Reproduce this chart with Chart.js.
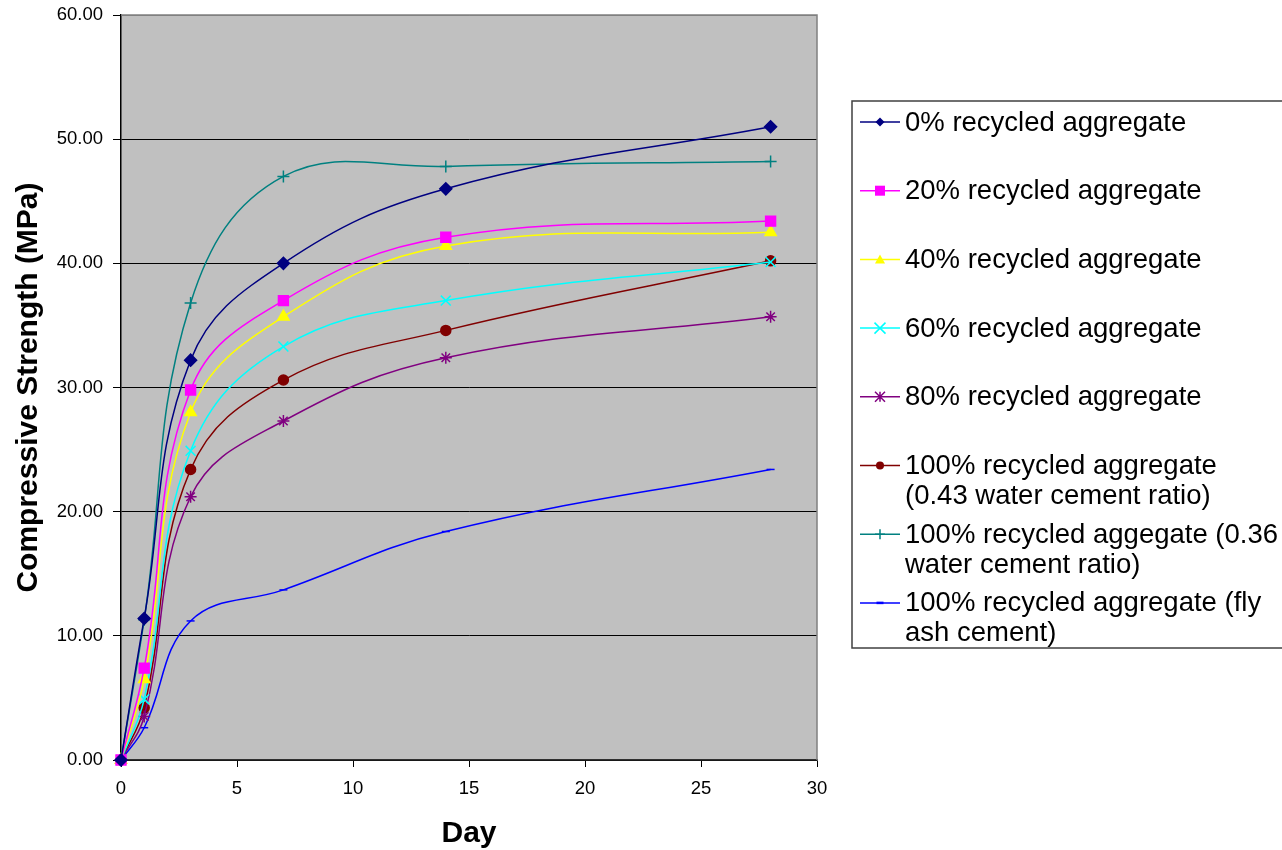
<!DOCTYPE html>
<html>
<head>
<meta charset="utf-8">
<title>Compressive Strength vs Day</title>
<script src="https://cdn.jsdelivr.net/npm/chart.js@4.4.1/dist/chart.umd.min.js"></script>
<style>
  html, body { margin: 0; padding: 0; background: #ffffff; }
  #wrap { width: 1282px; height: 850px; position: relative; }
</style>
</head>
<body>
<div id="wrap"><canvas id="c" width="1282" height="850"></canvas></div>
<script>
// Test ages (days)
const days = [0, 1, 3, 7, 14, 28];

// Compressive strength (MPa) per mix
const ra0    = [0, 11.4, 32.2, 40.0, 46.0, 51.0];
const ra20   = [0, 7.4, 29.8, 37.0, 42.1, 43.4];
const ra40   = [0, 6.5, 28.0, 35.7, 41.4, 42.5];
const ra60   = [0, 4.9, 24.9, 33.3, 37.0, 40.1];
const ra80   = [0, 3.5, 21.2, 27.3, 32.4, 35.7];
const ra100w43 = [0, 4.2, 23.4, 30.6, 34.6, 40.2];
const ra100w36 = [0, 11.3, 36.8, 47.0, 47.8, 48.2];
const ra100fa  = [0, 2.6, 11.2, 13.7, 18.4, 23.4];

const seriesNames = [
  "0% recycled aggregate",
  "20% recycled aggregate",
  "40% recycled aggregate",
  "60% recycled aggregate",
  "80% recycled aggregate",
  "100% recycled aggregate\n(0.43 water cement ratio)",
  "100% recycled aggegate (0.36\nwater cement ratio)",
  "100% recycled aggregate (fly\nash cement)"
];

const yTicks = [0, 10, 20, 30, 40, 50, 60];
const xTicks = [0, 5, 10, 15, 20, 25, 30];

const FONT = '"Liberation Sans", Arial, Helvetica, sans-serif';

const styles = [
  { color: '#000080', point: 'rectRot',  r: 6,   lr: 4.5 },
  { color: '#FF00FF', point: 'rect',     r: 7,   lr: 5 },
  { color: '#FFFF00', point: 'triangle', r: 6.5, lr: 5 },
  { color: '#00FFFF', point: 'crossRot', r: 7,   lr: 5.5 },
  { color: '#800080', point: 'star',     r: 6,   lr: 5 },
  { color: '#800000', point: 'circle',   r: 5,   lr: 4 },
  { color: '#008080', point: 'cross',    r: 6,   lr: 5 },
  { color: '#0000FF', point: 'line',     r: 4,   lr: 3.5 }
];

const allSeries = [ra0, ra20, ra40, ra60, ra80, ra100w43, ra100w36, ra100fa];

const datasets = allSeries.map((vals, i) => ({
  label: seriesNames[i],
  data: days.map((d, k) => ({ x: d, y: vals[k] })),
  borderColor: styles[i].color,
  backgroundColor: styles[i].color,
  borderWidth: 1.5,
  tension: 0.4,
  pointStyle: styles[i].point,
  pointRadius: styles[i].r,
  pointHoverRadius: styles[i].r,
  pointBackgroundColor: styles[i].color,
  pointBorderColor: styles[i].color,
  pointBorderWidth: 1.5,
  clip: 8
}));

// Grey plot background and top/right frame lines
const plotFrame = {
  id: 'plotFrame',
  beforeDraw(chart) {
    const a = chart.chartArea, ctx = chart.ctx;
    ctx.save();
    ctx.fillStyle = '#C0C0C0';
    ctx.fillRect(a.left, a.top, a.right - a.left, a.bottom - a.top);
    ctx.restore();
  },
  beforeDatasetsDraw(chart) {
    const a = chart.chartArea, ctx = chart.ctx;
    ctx.save();
    ctx.strokeStyle = '#808080';
    ctx.lineWidth = 1.5;
    ctx.beginPath();
    ctx.moveTo(a.left, a.top);
    ctx.lineTo(a.right, a.top);
    ctx.lineTo(a.right, a.bottom);
    ctx.stroke();
    ctx.restore();
  }
};

// Legend marker shapes
function drawMarker(ctx, style, x, y, r) {
  ctx.save();
  ctx.fillStyle = style.color;
  ctx.strokeStyle = style.color;
  ctx.lineWidth = 1.5;
  ctx.beginPath();
  switch (style.point) {
    case 'rectRot':
      ctx.moveTo(x, y - r); ctx.lineTo(x + r, y); ctx.lineTo(x, y + r); ctx.lineTo(x - r, y);
      ctx.closePath(); ctx.fill(); break;
    case 'rect':
      ctx.rect(x - r, y - r, 2 * r, 2 * r); ctx.fill(); break;
    case 'triangle':
      ctx.moveTo(x, y - r); ctx.lineTo(x + r, y + r * 0.8); ctx.lineTo(x - r, y + r * 0.8);
      ctx.closePath(); ctx.fill(); break;
    case 'crossRot':
      ctx.moveTo(x - r, y - r); ctx.lineTo(x + r, y + r);
      ctx.moveTo(x + r, y - r); ctx.lineTo(x - r, y + r); ctx.stroke(); break;
    case 'star':
      ctx.moveTo(x - r, y - r); ctx.lineTo(x + r, y + r);
      ctx.moveTo(x + r, y - r); ctx.lineTo(x - r, y + r);
      ctx.moveTo(x, y - r); ctx.lineTo(x, y + r); ctx.stroke(); break;
    case 'circle':
      ctx.arc(x, y, r, 0, Math.PI * 2); ctx.fill(); break;
    case 'cross':
      ctx.moveTo(x - r, y); ctx.lineTo(x + r, y);
      ctx.moveTo(x, y - r); ctx.lineTo(x, y + r); ctx.stroke(); break;
    case 'line':
      ctx.lineWidth = 2.5;
      ctx.moveTo(x - r, y); ctx.lineTo(x + r, y); ctx.stroke(); break;
  }
  ctx.restore();
}

// Boxed legend on the right, with wrapped entries
const boxLegend = {
  id: 'boxLegend',
  afterDraw(chart) {
    const ctx = chart.ctx;
    const box = { left: 852, top: 101, right: 1300, bottom: 648 };
    ctx.save();
    ctx.fillStyle = '#ffffff';
    ctx.fillRect(box.left, box.top, box.right - box.left, box.bottom - box.top);
    ctx.strokeStyle = '#404040';
    ctx.lineWidth = 1.5;
    ctx.strokeRect(box.left, box.top, box.right - box.left, box.bottom - box.top);

    const firstY = 122, step = 68.7, lineGap = 30;
    ctx.font = '27.5px ' + FONT;
    ctx.textBaseline = 'middle';
    ctx.textAlign = 'left';
    chart.data.datasets.forEach((ds, i) => {
      const y = firstY + i * step;
      const st = styles[i];
      ctx.strokeStyle = st.color;
      ctx.lineWidth = 1.5;
      ctx.beginPath();
      ctx.moveTo(860, y);
      ctx.lineTo(900, y);
      ctx.stroke();
      drawMarker(ctx, st, 880, y, st.lr);
      ctx.fillStyle = '#000000';
      ds.label.split('\n').forEach((line, j) => {
        ctx.fillText(line, 905, y + 1 + j * lineGap);
      });
    });
    ctx.restore();
  }
};

new Chart(document.getElementById('c'), {
  type: 'line',
  data: { datasets },
  plugins: [plotFrame, boxLegend],
  options: {
    responsive: false,
    animation: false,
    events: [],
    layout: { padding: { left: 0, top: 15, right: 465, bottom: 0 } },
    plugins: {
      legend: { display: false },
      tooltip: { enabled: false }
    },
    scales: {
      x: {
        type: 'linear',
        min: 0,
        max: 30,
        afterBuildTicks(scale) { scale.ticks = xTicks.map(v => ({ value: v })); },
        afterFit(scale) { scale.height = 90; },
        grid: {
          drawOnChartArea: false,
          drawTicks: true,
          tickLength: 7,
          color: '#000000',
          lineWidth: 1
        },
        border: { display: true, color: '#303030', width: 1.5 },
        ticks: {
          color: '#000000',
          font: { family: FONT, size: 18.5 },
          padding: 11,
          maxRotation: 0,
          callback: v => String(v)
        },
        title: {
          display: true,
          text: 'Day',
          color: '#000000',
          font: { family: FONT, size: 30, weight: 'bold' },
          padding: { top: 0, bottom: -2 }
        }
      },
      y: {
        type: 'linear',
        min: 0,
        max: 60,
        afterBuildTicks(scale) { scale.ticks = yTicks.map(v => ({ value: v })); },
        afterFit(scale) {
          scale.width = 121;
          scale.paddingTop = 0;
          scale.paddingBottom = 0;
        },
        grid: {
          drawTicks: true,
          tickLength: 8,
          color: ctx => (ctx.tick && ctx.tick.value === 60 ? '#808080' : '#000000'),
          tickColor: '#000000',
          lineWidth: 1
        },
        border: { display: true, color: '#000000', width: 1.5 },
        ticks: {
          color: '#000000',
          font: { family: FONT, size: 18.5 },
          padding: 10,
          callback: v => Number(v).toFixed(2)
        },
        title: {
          display: true,
          text: 'Compressive Strength (MPa)',
          color: '#000000',
          font: { family: FONT, size: 30, weight: 'bold' },
          padding: { top: 11, bottom: 0 }
        }
      }
    }
  }
});
</script>
</body>
</html>
